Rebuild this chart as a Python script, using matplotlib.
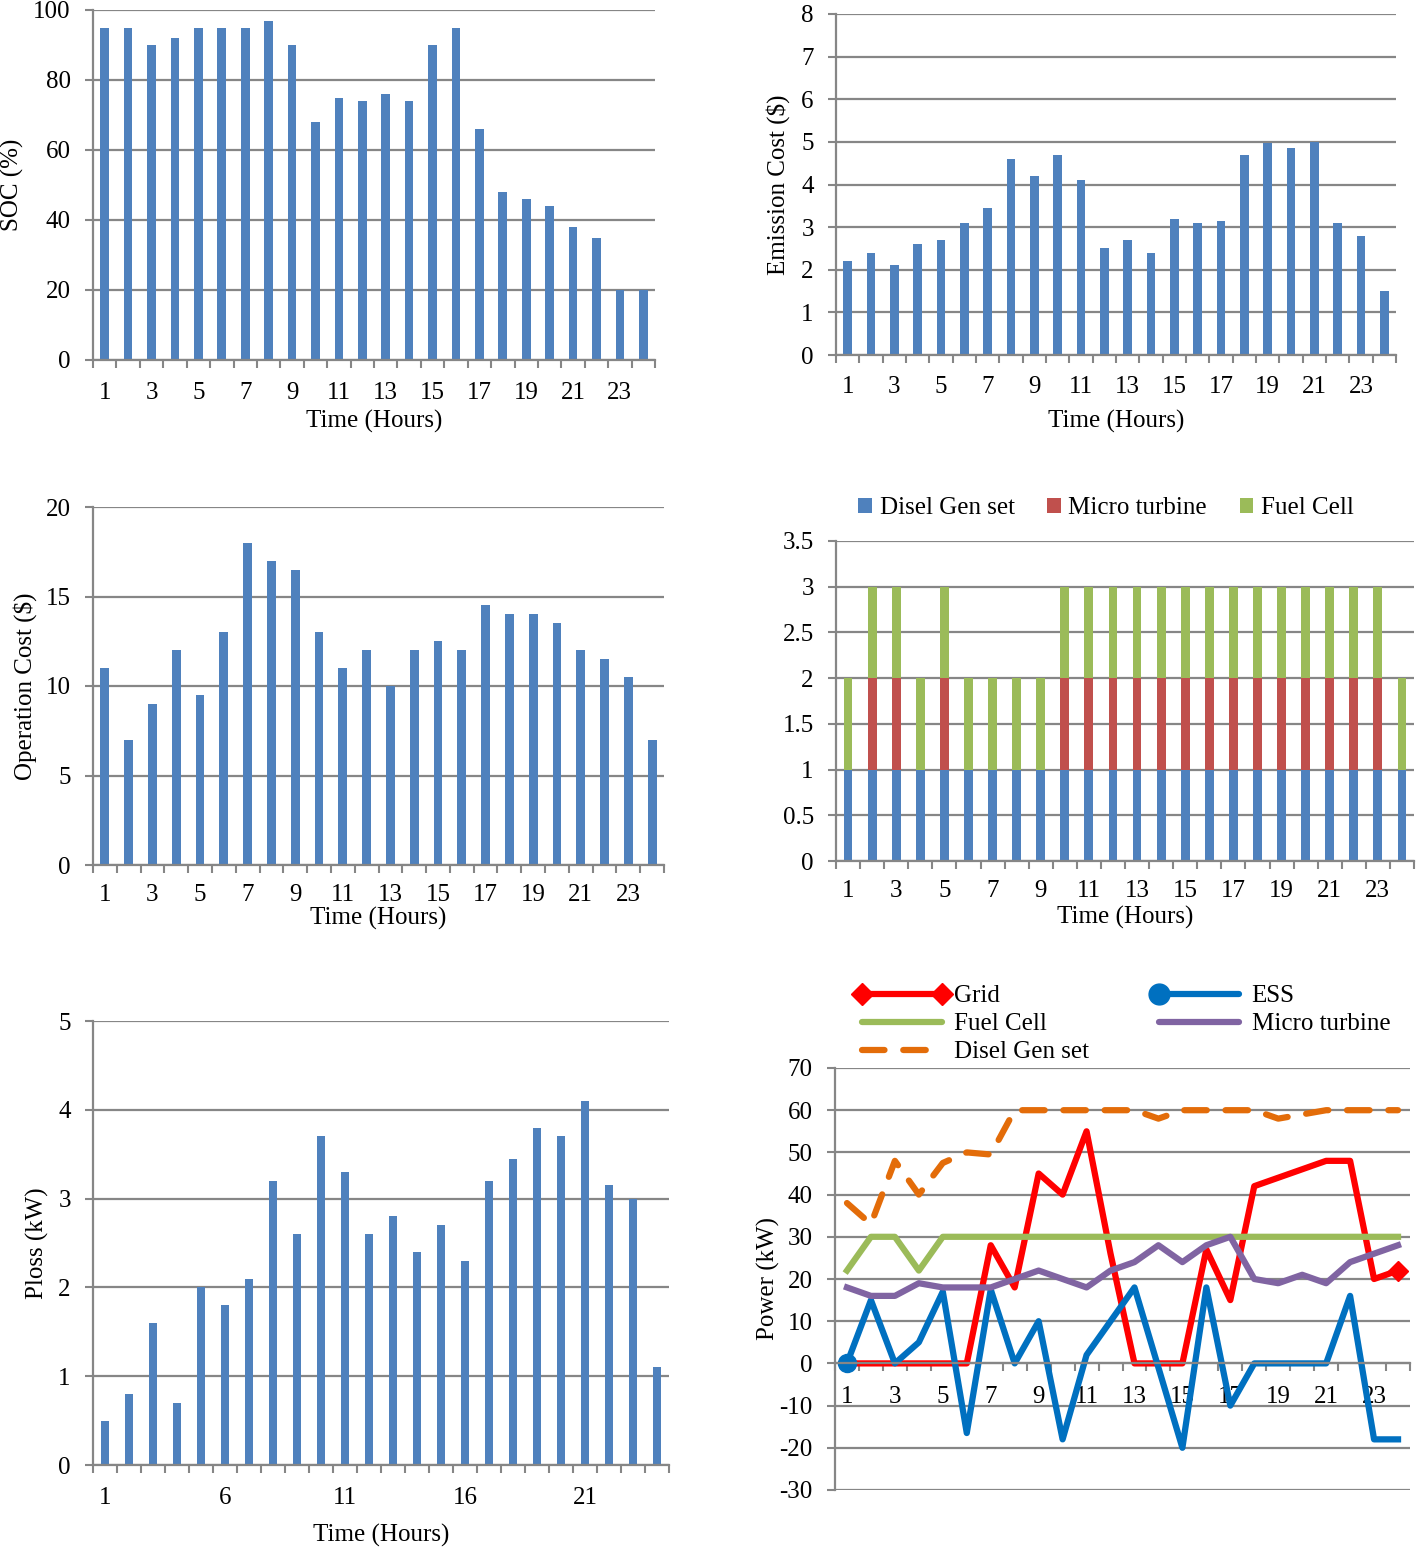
import numpy as np
import matplotlib.pyplot as plt
from matplotlib.lines import Line2D
from matplotlib.legend_handler import HandlerLine2D
from matplotlib.ticker import FuncFormatter

plt.rcParams['font.family'] = ['Liberation Serif', 'DejaVu Serif']
plt.rcParams['font.size'] = 18
plt.rcParams['axes.unicode_minus'] = False

# data
hours = np.arange(1, 25)

soc = [95, 95, 90, 92, 95, 95, 95, 97, 90, 68, 75, 74, 76, 74, 90, 95, 66, 48, 46, 44, 38, 35, 20, 20]

emission_cost = [2.2, 2.4, 2.1, 2.6, 2.7, 3.1, 3.45, 4.6, 4.2, 4.7, 4.1, 2.5,
                 2.7, 2.4, 3.2, 3.1, 3.15, 4.7, 4.97, 4.85, 5.0, 3.1, 2.8, 1.5]

operation_cost = [11, 7, 9, 12, 9.5, 13, 18, 17, 16.5, 13, 11, 12,
                  10, 12, 12.5, 12, 14.5, 14, 14, 13.5, 12, 11.5, 10.5, 7]

# on/off status of the units
dg_on = [1] * 24
mt_on = [0, 1, 1, 0, 1, 0, 0, 0, 0, 1, 1, 1, 1, 1, 1, 1, 1, 1, 1, 1, 1, 1, 1, 0]
fc_on = [1] * 24

ploss = [0.5, 0.8, 1.6, 0.7, 2.0, 1.8, 2.1, 3.2, 2.6, 3.7, 3.3, 2.6,
         2.8, 2.4, 2.7, 2.3, 3.2, 3.45, 3.8, 3.7, 4.1, 3.15, 3.0, 1.1]

p_grid = [0, 0, 0, 0, 0, 0, 28, 18, 45, 40, 55, 26, 0, 0, 0, 27, 15, 42, 44, 46, 48, 48, 20, 22]
p_ess = [0, 15, 0, 5, 17, -16.5, 17.5, 0, 10, -18, 2, 10, 18, -1, -20, 18, -10, 0, 0, 0, 0, 16, -18, -18]
p_fc = [22, 30, 30, 22, 30, 30, 30, 30, 30, 30, 30, 30, 30, 30, 30, 30, 30, 30, 30, 30, 30, 30, 30, 30]
p_mt = [18, 16, 16, 19, 18, 18, 18, 20, 22, 20, 18, 22, 24, 28, 24, 28, 30, 20, 19, 21, 19, 24, 26, 28]
p_dg = [38, 33, 48, 40, 47.5, 50, 49.5, 60, 60, 60, 60, 60, 60, 58, 60, 60, 60, 60, 58, 59, 60, 60, 60, 60]

W, H = 1416, 1549
gray = '#868686'
blue = '#4F81BD'
red = '#C0504D'
green = '#9BBB59'


def rect(x0, y0, x1, y1):
    return [x0 / W, 1 - y1 / H, (x1 - x0) / W, (y1 - y0) / H]


def style(ax, ymin, ymax, ystep, labels, pad=15):
    ax.set_xlim(0.5, 24.5)
    ax.set_ylim(ymin, ymax)
    ax.set_yticks(np.arange(ymin, ymax + ystep / 2, ystep))
    ax.yaxis.set_major_formatter(FuncFormatter(lambda v, p: '{:g}'.format(v)))
    ax.yaxis.grid(True, color=gray, lw=1.6)
    ax.set_axisbelow(True)
    ax.set_xticks(np.arange(0.5, 25, 1))
    ax.set_xticklabels([])
    ax.set_xticks(labels, minor=True)
    ax.set_xticklabels([str(v) for v in labels], minor=True)
    ax.tick_params(axis='x', which='major', length=6, width=1.5, color=gray)
    ax.tick_params(axis='x', which='minor', length=0, pad=pad)
    ax.tick_params(axis='y', length=6, width=1.5, color=gray, pad=10)
    for s in ['top', 'right']:
        ax.spines[s].set_visible(False)
    for s in ['left', 'bottom']:
        ax.spines[s].set_color(gray)
        ax.spines[s].set_linewidth(1.6)


def set_xlabel(ax, text, y_px):
    ax.set_xlabel(text)
    b = ax.get_position()
    y = (1 - y_px / H - b.y0) / b.height
    ax.xaxis.label.set_va('center')
    ax.xaxis.set_label_coords(0.5, y)


def set_ylabel(ax, text, x_px):
    ax.set_ylabel(text)
    b = ax.get_position()
    x = (x_px / W - b.x0) / b.width
    ax.yaxis.label.set_va('center')
    ax.yaxis.set_label_coords(x, 0.5)


# legend handler that keeps only the left marker (ESS)
class HandlerLeftMarker(HandlerLine2D):
    def create_artists(self, *args, **kwargs):
        arts = super().create_artists(*args, **kwargs)
        for a in arts:
            a.set_markevery([0])
        return arts


fig = plt.figure(figsize=(W / 100, H / 100), dpi=100)

odd = list(range(1, 24, 2))
bw = 0.37

# SOC
ax1 = fig.add_axes(rect(93, 10, 655, 360))
ax1.bar(hours, soc, width=bw, color=blue)
style(ax1, 0, 100, 20, odd, pad=15.5)
set_xlabel(ax1, 'Time (Hours)', 421)
set_ylabel(ax1, 'SOC (%)', 12)

# Emission cost
ax2 = fig.add_axes(rect(836, 14, 1396, 355))
ax2.bar(hours, emission_cost, width=bw, color=blue)
style(ax2, 0, 8, 1, odd, pad=15)
set_xlabel(ax2, 'Time (Hours)', 421)
set_ylabel(ax2, 'Emission Cost ($)', 778)

# Operation cost
ax3 = fig.add_axes(rect(93, 507, 664, 865))
ax3.bar(hours, operation_cost, width=bw, color=blue)
style(ax3, 0, 20, 5, odd, pad=13.5)
set_xlabel(ax3, 'Time (Hours)', 918)
set_ylabel(ax3, 'Operation Cost ($)', 25)

# Unit status, stacked
ax4 = fig.add_axes(rect(836, 541, 1414, 861))
ax4.bar(hours, dg_on, width=bw, color=blue, label='Disel Gen set')
ax4.bar(hours, mt_on, width=bw, bottom=dg_on, color=red, label='Micro turbine')
ax4.bar(hours, fc_on, width=bw, bottom=np.add(dg_on, mt_on), color=green, label='Fuel Cell')
style(ax4, 0, 3.5, 0.5, odd, pad=14)
set_xlabel(ax4, 'Time (Hours)', 917)
ax4.legend(loc='center', bbox_to_anchor=(1106 / W, 1 - 508 / H), bbox_transform=fig.transFigure,
           ncol=3, frameon=False, handlelength=0.55, handleheight=0.55, handletextpad=0.3,
           columnspacing=1.3, borderpad=0)

# Ploss
ax5 = fig.add_axes(rect(93, 1021, 669, 1465))
ax5.bar(hours, ploss, width=bw, color=blue)
style(ax5, 0, 5, 1, [1, 6, 11, 16, 21], pad=16)
set_xlabel(ax5, 'Time (Hours)', 1535)
set_ylabel(ax5, 'Ploss (kW)', 37)

# Power dispatch
ax6 = fig.add_axes(rect(835, 1068, 1410, 1490))
lw = 4.5
dash = (3.6, 3.0)
c_grid, c_ess, c_fc, c_mt, c_dg = '#FF0000', '#0070C0', '#9BBB59', '#8064A2', '#E36C09'
ax6.plot(hours, p_grid, color=c_grid, lw=lw, marker='D', markersize=10, markevery=[23])
ax6.plot(hours, p_ess, color=c_ess, lw=lw, marker='o', markersize=13, markevery=[0])
ax6.plot(hours, p_fc, color=c_fc, lw=lw)
ax6.plot(hours, p_mt, color=c_mt, lw=lw)
ax6.plot(hours, p_dg, color=c_dg, lw=lw, dashes=dash, dash_capstyle='round')
style(ax6, -30, 70, 10, odd, pad=16)
ax6.spines['bottom'].set_position(('data', 0))
set_ylabel(ax6, 'Power (kW)', 768)

h_grid = Line2D([], [], color=c_grid, lw=lw, marker='D', markersize=11)
h_fc = Line2D([], [], color=c_fc, lw=lw, solid_capstyle='round')
h_dg = Line2D([], [], color=c_dg, lw=lw, dashes=dash, dash_capstyle='round')
h_ess = Line2D([], [], color=c_ess, lw=lw, marker='o', markersize=15, solid_capstyle='round')
h_mt = Line2D([], [], color=c_mt, lw=lw, solid_capstyle='round')
names = ['Grid', 'Fuel Cell', 'Disel Gen set', 'ESS', 'Micro turbine']
fig.legend([h_grid, h_fc, h_dg, h_ess, h_mt], names, loc='upper left',
           bbox_to_anchor=(854 / W, 1 - 985 / H),
           ncol=2, frameon=False, numpoints=2, handlelength=3.8, handletextpad=0.2,
           labelspacing=0.22, columnspacing=2.5, borderpad=0, borderaxespad=0,
           handler_map={h_ess: HandlerLeftMarker()})

fig.savefig('out.png', dpi=100)
